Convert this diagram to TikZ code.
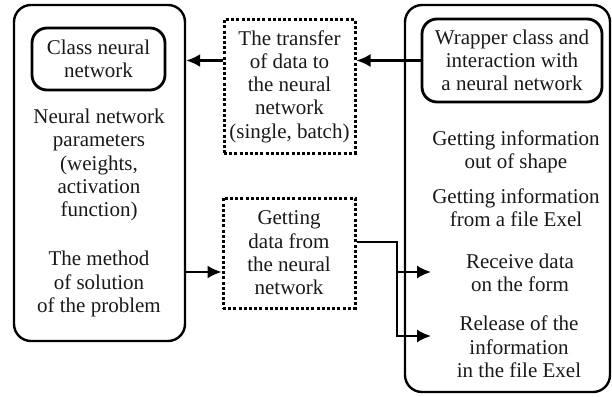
\documentclass[tikz,border=0pt]{standalone}
\usepackage{fontspec}
\setmainfont{Liberation Serif}
\usetikzlibrary{arrows.meta, positioning}
\colorlet{colLinea}{black}
\colorlet{colTexto}{black!90}
\newcommand{\fuenteDiagrama}{\fontsize{21}{23.3}\selectfont}
\tikzset{
  textoBase/.style={
    align=center, font=\fuenteDiagrama, text=colTexto, inner sep=0pt
  },
  cajaGrande/.style={
    draw=colLinea, line width=2.4pt, rounded corners=17pt, inner sep=0pt
  },
  cajaClase/.style={
    textoBase, draw=colLinea, line width=2.8pt, rounded corners=15pt
  },
  cajaPuntos/.style={
    textoBase, draw=colLinea, line width=3pt,
    dash pattern=on 3pt off 2.2pt
  },
  flecha/.style={-{Latex[length=14pt, width=13pt]}, line width=2.1pt, colLinea},
}

\begin{document}
\begin{tikzpicture}[x=1pt, y=-1pt]
    \useasboundingbox (0,0) rectangle (612,396);
    % bloques grandes
    \node[cajaGrande, minimum width=171pt, minimum height=336pt] (izquierda) at (99.5,173) {};
    \node[cajaGrande, minimum width=205pt, minimum height=387pt] (derecha) at (507.5,198.5) {};
    % lado izquierdo
    \node[cajaClase, minimum width=133pt, minimum height=62pt] (clase) at (98.5,59) {Class neural\\network};
    \node[textoBase] (parametros) at (99,165) {Neural network\\parameters\\(weights,\\activation\\function)};
    \node[textoBase] (metodo) at (99,284) {The method\\of solution\\of the problem};
    % bloques de en medio
    \node[cajaPuntos, minimum width=131pt, minimum height=133pt] (transferencia) at (289.5,86.5) {The transfer\\of data to\\the neural\\network\\(single, batch)};
    \node[cajaPuntos, minimum width=132pt, minimum height=110pt] (obtener) at (289,253) {Getting\\data from\\the neural\\network};
    % lado derecho
    \node[cajaClase, minimum width=180pt, minimum height=83pt] (envoltura) at (512,60.5) {Wrapper class and\\interaction with\\a neural network};
    \node[textoBase] (forma) at (516,151.5) {Getting information\\out of shape};
    \node[textoBase] (archivo) at (516,207.5) {Getting information\\from a file Exel};
    \node[textoBase] (recibir) at (520,272.5) {Receive data\\on the form};
    \node[textoBase] (liberar) at (519,347) {Release of the\\information\\in the file Exel};
    % puntos de las flechas
    \coordinate (codo) at (397,242);
    \coordinate (puntaRecibir) at (431,272);
    \coordinate (puntaLiberar) at (431,336);
    % flechas
    \draw[flecha] (envoltura.west) -- (envoltura.west -| transferencia.east);
    \draw[flecha] (envoltura.west -| transferencia.west) -- (envoltura.west -| izquierda.east);
    \draw[flecha] (izquierda.east |- puntaRecibir) -- (obtener.west |- puntaRecibir);
    \draw[flecha] (obtener.east |- codo) -- (codo) |- (puntaLiberar);
    \draw[flecha] (codo |- puntaRecibir) -- (puntaRecibir);
  \end{tikzpicture}
\end{document}
